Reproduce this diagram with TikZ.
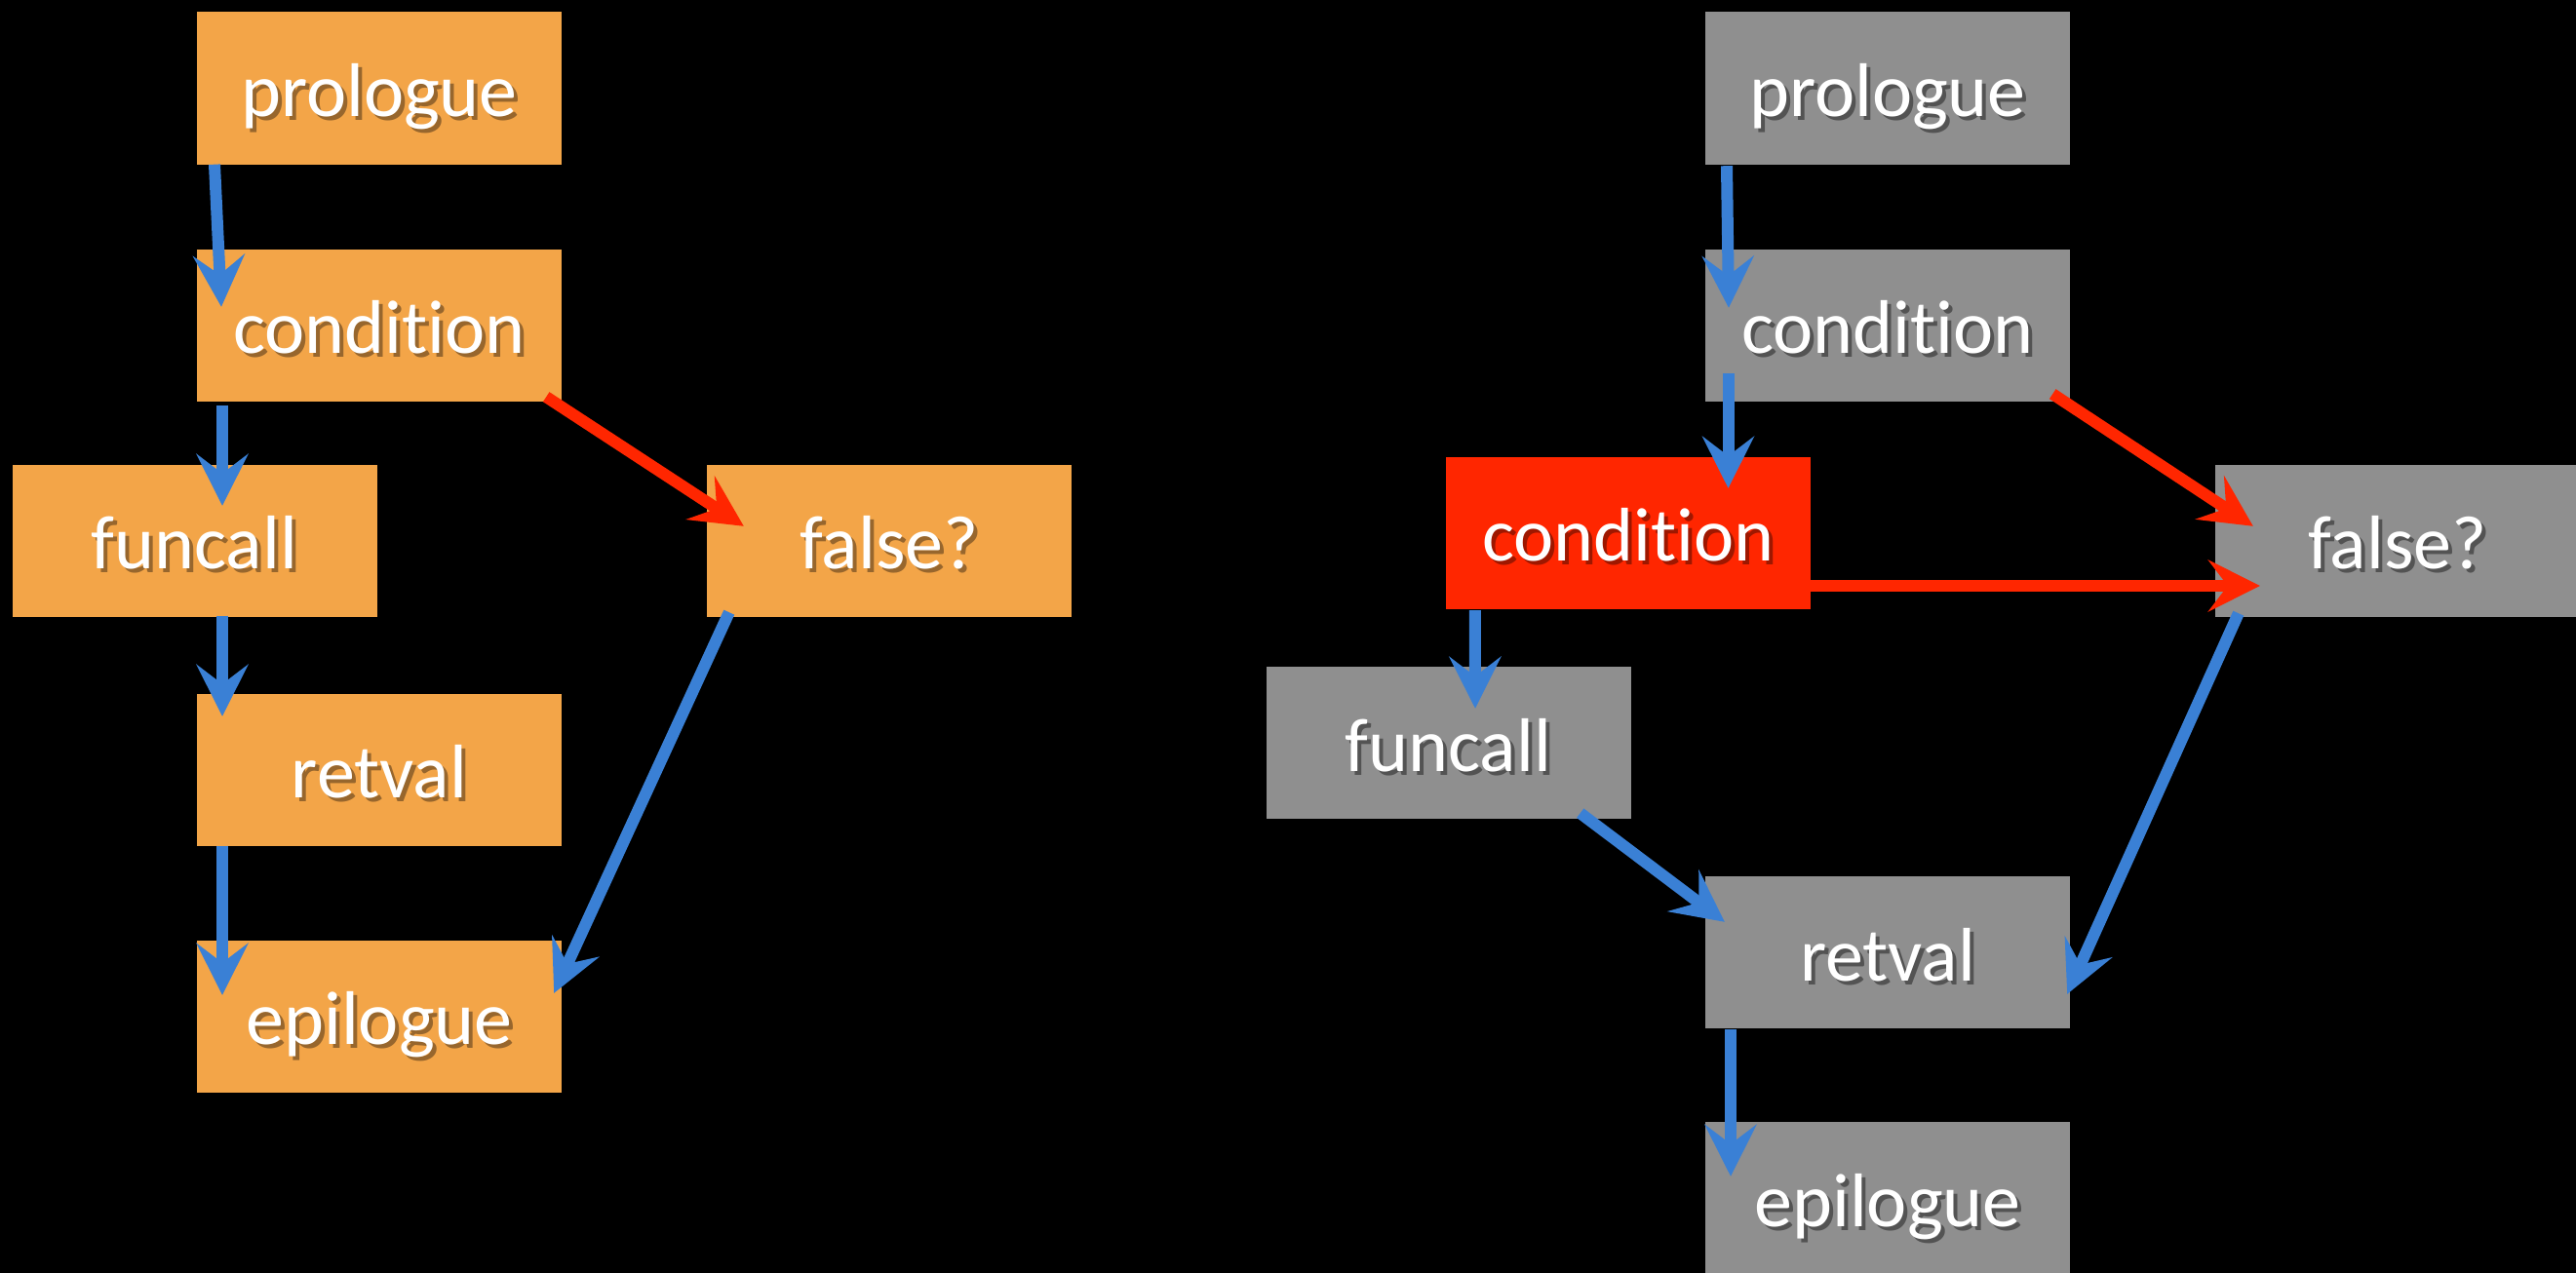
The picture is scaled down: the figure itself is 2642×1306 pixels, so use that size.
\documentclass[tikz,border=0pt]{standalone}
\usepackage{fontspec}
\setmainfont{Carlito}[RawFeature=-liga]
\usetikzlibrary{arrows.meta}

\definecolor{boxorange}{RGB}{243,165,72}
\definecolor{boxgray}{RGB}{143,143,143}
\definecolor{hotred}{RGB}{255,38,0}
\definecolor{flowblue}{RGB}{58,128,213}

% white label with a soft dark drop shadow behind it
\newcommand\shadowed[1]{\rlap{\kern4pt\raisebox{-4pt}{\textcolor{shadowcol}{#1}}}#1}

\tikzset{
  block/.style={minimum width=374pt, minimum height=156pt, inner sep=0pt,
    text=white, font=\fontsize{78}{80}\selectfont,
    text height=58pt, text depth=0pt},
  oblock/.style={block, fill=boxorange,
    execute at begin node={\colorlet{shadowcol}{boxorange!62!black}}},
  gblock/.style={block, fill=boxgray,
    execute at begin node={\colorlet{shadowcol}{boxgray!58!black}}},
  rblock/.style={block, fill=hotred,
    execute at begin node={\colorlet{shadowcol}{hotred!62!black}}},
  flow/.style={line width=12pt, draw=flowblue,
    -{Stealth[length=53pt,width=53pt,inset=20pt,fill=flowblue]}},
  jump/.style={line width=12pt, draw=hotred,
    -{Stealth[length=53pt,width=53pt,inset=20pt,fill=hotred]}},
}

\begin{document}
\begin{tikzpicture}[x=1pt,y=-1pt]
  \fill[black] (0,0) rectangle (2642,1306);
  \useasboundingbox (0,0) rectangle (2642,1306);
  \clip (0,0) rectangle (2642,1306);

  % ---- plain control flow ----
  \node[oblock] (pL) at (389,90.5)   {\shadowed{prologue}};
  \node[oblock] (cL) at (389,333.5)  {\shadowed{condition}};
  \node[oblock] (fL) at (199.5,554.5){\shadowed{funcall}};
  \node[oblock] (qL) at (912,554.5)  {\shadowed{false?}};
  \node[oblock] (rL) at (389,789.5)  {\shadowed{retval}};
  \node[oblock] (eL) at (389,1042.5) {\shadowed{epilogue}};

  \draw[flow] ([shift={(-169,0)}]pL.south) -- ([shift={(-162,59.5)}]cL.north);
  \draw[flow] ([shift={(-161,4)}]cL.south) -- ([shift={(28.5,42.5)}]fL.north);
  \draw[flow] ([shift={(28.5,-1)}]fL.south) -- ([shift={(-161,23.5)}]rL.north);
  \draw[flow] ([shift={(-161,0)}]rL.south) -- ([shift={(-161,56.5)}]eL.north);
  \draw[flow] ([shift={(23,-4.5)}]qL.south west) -- ([shift={(-8,54.5)}]eL.north east);
  \draw[jump] ([shift={(-16,-4.5)}]cL.south east) -- ([shift={(38,63.5)}]qL.north west);

  % ---- with the duplicated condition ----
  \node[gblock] (pR) at (1936,90.5)  {\shadowed{prologue}};
  \node[gblock] (cR) at (1936,333.5) {\shadowed{condition}};
  \node[rblock] (kR) at (1670,546.5) {\shadowed{condition}};
  \node[gblock] (qR) at (2459,554.5) {\shadowed{false?}};
  \node[gblock] (fR) at (1485.5,762) {\shadowed{funcall}};
  \node[gblock] (rR) at (1936,977)   {\shadowed{retval}};
  \node[gblock] (eR) at (1936,1229)  {\shadowed{epilogue}};

  \draw[flow] ([shift={(-165,1.5)}]pR.south) -- ([shift={(-163,60.5)}]cR.north);
  \draw[flow] ([shift={(-163.5,-28.5)}]cR.south) -- ([shift={(102.5,32.5)}]kR.north);
  \draw[jump] ([shift={(-18,-7.5)}]cR.south east) -- ([shift={(39,63.5)}]qR.north west);
  \draw[jump] ([shift={(0,54.5)}]kR.east) -- ([shift={(46,46.5)}]qR.west);
  \draw[flow] ([shift={(30,1.5)}]kR.south west) -- ([shift={(27.5,43)}]fR.north);
  \draw[flow] ([shift={(-52,-6)}]fR.south east) -- ([shift={(20,47)}]rR.north west);
  \draw[flow] ([shift={(24,-3.5)}]qR.south west) -- ([shift={(-3,121)}]rR.north east);
  \draw[flow] ([shift={(-161,1)}]rR.south) -- ([shift={(-161,56)}]eR.north);
\end{tikzpicture}
\end{document}
